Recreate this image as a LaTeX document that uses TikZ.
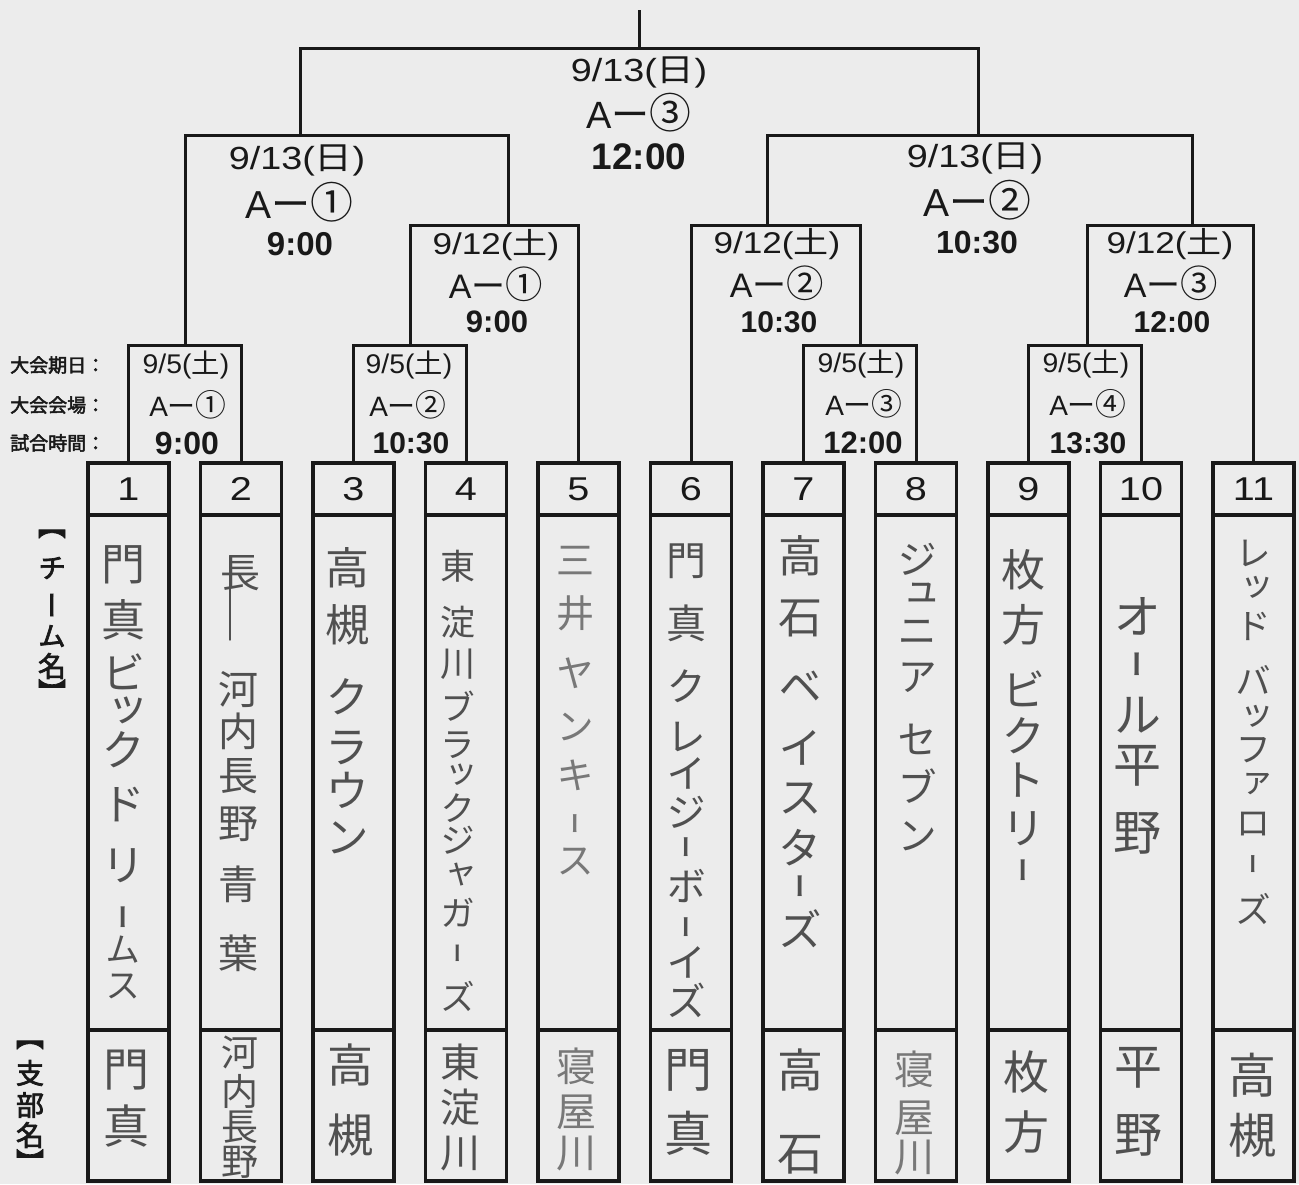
\documentclass[tikz,border=0pt]{standalone}
\usepackage{fontspec}
\usepackage{graphicx}
\setmainfont{Liberation Sans}
\newfontfamily\cjk{Noto Sans CJK JP}
\newfontfamily\cjkv[RawFeature=+vert]{Noto Sans CJK JP}
\newfontfamily\cjkvb[RawFeature=+vert,FakeBold=2.5]{Noto Sans CJK JP}
\newfontfamily\cjkb[FakeBold=2.5]{Noto Sans CJK JP}
\definecolor{bg}{RGB}{236,236,236}
\definecolor{ink}{RGB}{25,25,25}
\definecolor{pencil}{RGB}{80,80,80}
\definecolor{pencillt}{RGB}{120,120,120}
\newcommand\fsz[1]{\fontsize{#1}{#1}\selectfont}
\newcommand\dateline[4]{\scalebox{#1}[1]{\fsz{#2}#3({\cjk #4})}}
\newcommand\venue[2]{{\fsz{#1}A{\cjk ー\scalebox{1.1}{#2}}}}
\newcommand\tmtext[2]{{\fsz{#1}\bfseries #2}}
\newcommand\vbar{\scalebox{1}[0.6]{ー}}
\newcommand\sm[1]{\scalebox{0.8}{#1}}
\newcommand\handcol[5][pencil]{%
  \foreach \c/\yy [count=\k] in {#5}
    \node[hand,text=#1,font=\cjkv\fsz{#4}] (#2-\k) at (#3,\yy) {\c};}
\begin{document}
\begin{tikzpicture}[x=1pt,y=-1pt,
  br/.style={line width=3pt,draw=ink,line join=miter},
  boxl/.style={line width=3.4pt,draw=ink},
  numbox/.style={draw=ink,line width=3.4pt,minimum width=81pt,minimum height=52pt,inner sep=0pt,text=ink,font=\fsz{33}},
  lbl/.style={inner sep=0pt,text=ink},
  hand/.style={inner sep=0pt},
  strike/.style={draw=pencil,line width=1.4pt,line cap=round}]
\useasboundingbox (0,0) rectangle (1299,1184);
\fill[bg] (0,0) rectangle (1299,1184);

% team columns
\foreach \i in {1,...,11}{
  \pgfmathsetmacro\xl{88+112.5*(\i-1)}
  \draw[boxl] (\xl,515) rectangle (\xl+81,1181);
  \draw[boxl] (\xl,1030) -- (\xl+81,1030);
  \node[numbox] (t\i) at (\xl+40.5,489) {\scalebox{1.2}[1]{\i}};
}

% bracket junctions
\coordinate (ftop) at (639,10);
\coordinate (f) at (639,48);
\coordinate (s1) at (300,135);
\coordinate (s2) at (978,135);
\coordinate (r1) at (508,225);
\coordinate (r2) at (767,225);
\coordinate (r3) at (1192,225);
\coordinate (m1) at (185,345);
\coordinate (m2) at (410,345);
\coordinate (m3) at (860,345);
\coordinate (m4) at (1087,345);

\draw[br] (ftop) -- (f);
\draw[br] (s1) |- (f) -| (s2);
\draw[br] (m1) |- (s1) -| (r1);
\draw[br] (r2) |- (s2) -| (r3);
\draw[br] (m2) |- (r1) -| (t5.north);
\draw[br] (t6.north) |- (r2) -| (m3);
\draw[br] (m4) |- (r3) -| (t11.north);
\draw[br] (t1.north) |- (m1) -| (t2.north);
\draw[br] (t3.north) |- (m2) -| (t4.north);
\draw[br] (t7.north) |- (m3) -| (t8.north);
\draw[br] (t9.north) |- (m4) -| (t10.north);

% final
\node[lbl] (fd) at (639,72) {\dateline{1.18}{32}{9/13}{日}};
\node[lbl] (fa) at (639,113) {\venue{38}{③}};
\node[lbl] (ft) at (639,157) {\tmtext{37}{12:00}};
% 9/13 A-1
\node[lbl] (sd1) at (297,160) {\dateline{1.18}{32}{9/13}{日}};
\node[lbl] (sa1) at (299,202) {\venue{39}{①}};
\node[lbl] (st1) at (300,244) {\tmtext{33}{9:00}};
% 9/13 A-2
\node[lbl] (sd2) at (975,158) {\dateline{1.18}{32}{9/13}{日}};
\node[lbl] (sa2) at (977,200) {\venue{39}{②}};
\node[lbl] (st2) at (977,243) {\tmtext{32}{10:30}};
% 9/12
\node[lbl] (rd1) at (496,245) {\dateline{1.17}{30}{9/12}{土}};
\node[lbl] (ra1) at (496,284) {\venue{34}{①}};
\node[lbl] (rt1) at (497,322) {\tmtext{31}{9:00}};
\node[lbl] (rd2) at (777,244) {\dateline{1.17}{30}{9/12}{土}};
\node[lbl] (ra2) at (777,283) {\venue{34}{②}};
\node[lbl] (rt2) at (779,322) {\tmtext{30}{10:30}};
\node[lbl] (rd3) at (1170,244) {\dateline{1.17}{30}{9/12}{土}};
\node[lbl] (ra3) at (1171,283) {\venue{34}{③}};
\node[lbl] (rt3) at (1172,322) {\tmtext{30}{12:00}};
% 9/5
\node[lbl] (md1) at (186,365) {\dateline{1.05}{27}{9/5}{土}};
\node[lbl] (ma1) at (188,405) {\venue{28}{①}};
\node[lbl] (mt1) at (187,443) {\tmtext{32}{9:00}};
\node[lbl] (md2) at (409,365) {\dateline{1.05}{27}{9/5}{土}};
\node[lbl] (ma2) at (408,405) {\venue{28}{②}};
\node[lbl] (mt2) at (411,443) {\tmtext{30}{10:30}};
\node[lbl] (md3) at (861,364) {\dateline{1.05}{27}{9/5}{土}};
\node[lbl] (ma3) at (864,404) {\venue{28}{③}};
\node[lbl] (mt3) at (863,443) {\tmtext{31}{12:00}};
\node[lbl] (md4) at (1086,364) {\dateline{1.05}{27}{9/5}{土}};
\node[lbl] (ma4) at (1088,404) {\venue{28}{④}};
\node[lbl] (mt4) at (1088,443) {\tmtext{30}{13:30}};

% left labels
\node[lbl,anchor=west,font=\cjkb\fsz{19}] (la) at (10,365) {大会期日：};
\node[lbl,anchor=west,font=\cjkb\fsz{19}] (lb) at (10,405) {大会会場：};
\node[lbl,anchor=west,font=\cjkb\fsz{19}] (lc) at (10,443) {試合時間：};
\foreach \c/\yy [count=\k] in {【/534,チ/568,ー/605,ム/636,名/666,】/691}
  \node[lbl,font=\cjkvb\fsz{28}] (tl-\k) at (52,\yy) {\c};
\foreach \c/\yy [count=\k] in {【/1045,支/1073,部/1105,名/1135,】/1161}
  \node[lbl,font=\cjkvb\fsz{28}] (bl-\k) at (30,\yy) {\c};

% team names
\handcol{n1}{123}{44}{門/565,真/620,ビ/672,ッ/712,ク/750,ド/805,リ/866,\vbar/917,\sm{ム}/950,\sm{ス}/986}
\node[hand,text=pencil,font=\cjkv\fsz{40}] (x2) at (240,573) {長};
\coordinate (k1) at (230,556);
\coordinate (k2) at (230,640);
\draw[strike] (k1) -- (k2);
\handcol{n2}{238}{40}{河/690,内/731,長/776,野/824,青/884,葉/953}
\handcol{n3}{347}{44}{高/568,槻/625,ク/697,ラ/748,ウ/790,ン/838}
\handcol{n4}{458}{35}{東/566,淀/622,川/664,ブ/706,ラ/745,ッ/776,ク/808,ジ/840,ャ/875,ガ/913,\vbar/953,ズ/996}
\handcol[pencillt]{n5}{575}{38}{三/561,井/613,ヤ/673,ン/727,キ/775,\vbar/824,ス/862}
\handcol{n6}{686}{40}{門/561,真/623,ク/686,レ/737,イ/773,ジ/812,\vbar/847,ボ/886,\vbar/927,イ/962,ズ/1000}
\handcol{n7}{800}{44}{高/556,石/618,ベ/687,イ/748,ス/798,タ/848,\vbar/886,ズ/929}
\handcol{n8}{917}{40}{ジ/559,ュ/596,ニ/633,ア/678,セ/739,ブ/786,ン/836}
\handcol{n9}{1023}{44}{枚/570,方/625,ビ/689,ク/736,ト/780,リ/829,\vbar/870}
\handcol{n10}{1137}{48}{オ/616,\vbar/664,ル/715,平/766,野/833}
\handcol{n11}{1253}{36}{レ/553,ッ/588,ド/626,バ/680,ッ/717,フ/750,ァ/785,ロ/824,\vbar/864,ズ/909}

% branch names
\handcol{b1}{126}{46}{門/1070,真/1126}
\handcol{b2}{240}{37}{河/1053,内/1091,長/1127,野/1162}
\handcol{b3}{350}{46}{高/1065,槻/1135}
\handcol{b4}{460}{40}{東/1062,淀/1107,川/1153}
\handcol[pencillt]{b5}{576}{40}{寝/1066,屋/1112,川/1153}
\handcol{b6}{688}{48}{門/1070,真/1133}
\handcol{b7}{800}{46}{高/1070,石/1155}
\handcol[pencillt]{b8}{914}{40}{寝/1069,屋/1118,川/1157}
\handcol{b9}{1026}{46}{枚/1072,方/1132}
\handcol{b10}{1138}{48}{平/1068,野/1135}
\handcol{b11}{1252}{48}{高/1075,槻/1135}
\end{tikzpicture}
\end{document}
